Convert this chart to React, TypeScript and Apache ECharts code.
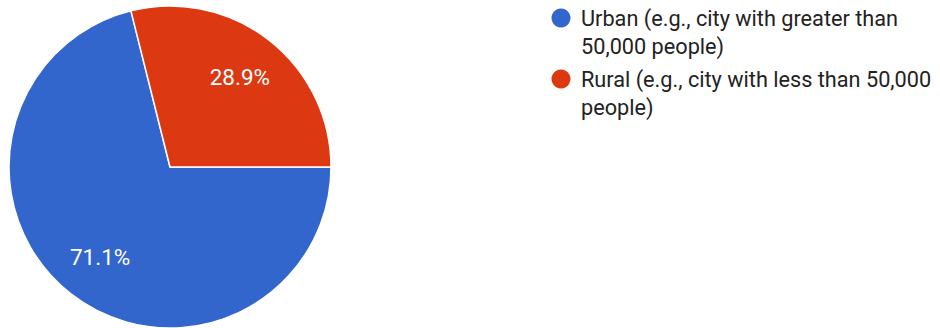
import React, { useEffect, useRef } from "react";
import * as echarts from "echarts";

const categories = [
  "Urban (e.g., city with greater than 50,000 people)",
  "Rural (e.g., city with less than 50,000 people)",
];
const legendLines = [
  ["Urban (e.g., city with greater than", "50,000 people)"],
  ["Rural (e.g., city with less than 50,000", "people)"],
];
const values = [71.1, 28.9];
const colors = ["#3366cc", "#dc3912"];

const CX = 170;
const CY = 167;
const R = 161;

export default function App() {
  const ref = useRef<HTMLDivElement>(null);
  useEffect(() => {
    if (!ref.current) return;
    const chart = echarts.init(ref.current, null, { renderer: "svg" });
    const legendGraphics: any[] = [];
    legendLines.forEach((lines, i) => {
      const top = 18 + i * 61;
      legendGraphics.push({
        type: "circle",
        shape: { cx: 561, cy: top, r: 9.5 },
        style: { fill: colors[i] },
      });
      legendGraphics.push({
        type: "text",
        x: 581,
        y: top - 14,
        style: {
          text: lines.join("\n"),
          fill: "#222222",
          font: "21.7px Roboto, Arial, sans-serif",
          lineHeight: 28,
          verticalAlign: "top",
        },
      });
    });
    chart.setOption({
      animation: false,
      graphic: legendGraphics,
      series: [
        {
          type: "pie",
          center: [CX, CY],
          radius: [0, R],
          startAngle: 0,
          clockwise: true,
          data: categories.map((c, i) => ({
            name: c,
            value: values[i],
            itemStyle: { color: colors[i] },
          })),
          itemStyle: { borderColor: "#ffffff", borderWidth: 1.5 },
          label: {
            show: true,
            position: "inside",
            formatter: (p: any) => p.value.toFixed(1) + "%",
            color: "#ffffff",
            fontSize: 22.5,
            fontFamily: "Roboto, Arial, sans-serif",
          },
          labelLayout: (p: any) => {
            const r = p.labelRect;
            const lx = r.x + r.width / 2;
            const ly = r.y + r.height / 2;
            const nx = CX + (lx - CX) * 1.36;
            const ny = CY + (ly - CY) * 1.36;
            return { x: nx, y: ny, align: "center", verticalAlign: "middle" };
          },
          labelLine: { show: false },
          emphasis: { disabled: true },
        },
      ],
    });
    return () => chart.dispose();
  }, []);
  return (
    <div
      ref={ref}
      style={{ position: "fixed", left: 0, top: 0, width: 940, height: 328, background: "#fff" }}
    />
  );
}
